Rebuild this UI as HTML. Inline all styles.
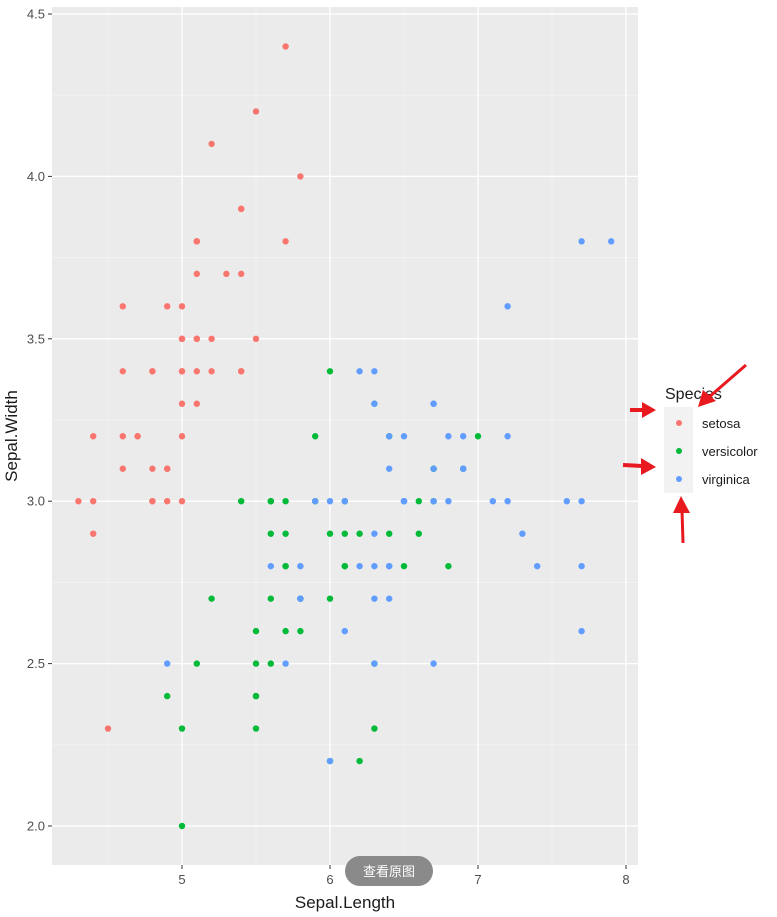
<!DOCTYPE html>
<html><head><meta charset="utf-8">
<style>
html,body{margin:0;padding:0;background:#fff;width:777px;height:917px;overflow:hidden}
svg text{font-family:"Liberation Sans","Noto Sans CJK SC",sans-serif}
</style></head><body>
<svg id="s" width="777" height="917" xmlns="http://www.w3.org/2000/svg">
<rect x="52" y="7" width="586" height="858" fill="#ebebeb"/>
<g id="grid"></g>
<g id="pts"></g>
<g id="ax"></g>
<text x="345" y="908" font-size="17" fill="#1a1a1a" text-anchor="middle">Sepal.Length</text>
<text transform="translate(17,436) rotate(-90)" font-size="17" fill="#1a1a1a" text-anchor="middle">Sepal.Width</text>
<text x="665" y="399" font-size="16" fill="#1a1a1a">Species</text>
<rect x="664" y="407" width="29" height="86" fill="#f2f2f2"/>
<circle cx="679" cy="423" r="3" fill="#F8766D"/>
<circle cx="679" cy="451" r="3" fill="#00BA38"/>
<circle cx="679" cy="479" r="3" fill="#619CFF"/>
<text x="702" y="428" font-size="13" fill="#1a1a1a">setosa</text>
<text x="702" y="456" font-size="13" fill="#1a1a1a">versicolor</text>
<text x="702" y="484" font-size="13" fill="#1a1a1a">virginica</text>
<g fill="#e8191f" stroke="#e8191f">
<line x1="746" y1="365" x2="708" y2="398" stroke-width="3"/><polygon points="698,407 703,390 716,401" stroke="none"/>
<line x1="630" y1="410" x2="645" y2="410" stroke-width="4"/><polygon points="656,410 642,402 642,418" stroke="none"/>
<line x1="623" y1="465" x2="642" y2="466" stroke-width="4"/><polygon points="656,467 641,458 641,475" stroke="none"/>
<line x1="683" y1="543" x2="682" y2="510" stroke-width="3"/><polygon points="681,496 673,513 690,513" stroke="none"/>
</g>
<rect x="345" y="856" width="88" height="30" rx="15" fill="#8a8a8a"/>
<text x="389" y="876" font-size="13" fill="#fff" text-anchor="middle">查看原图</text>
</svg>
<script>
var X=v=>182+(v-5)*148, Y=v=>826-(v-2)*324.8, NS="http://www.w3.org/2000/svg";
function el(p,t,a){var e=document.createElementNS(NS,t);for(var k in a)e.setAttribute(k,a[k]);p.appendChild(e);return e;}
var g=document.getElementById('grid'),ax=document.getElementById('ax');
[4.5,5.5,6.5,7.5].forEach(v=>el(g,'line',{x1:X(v),x2:X(v),y1:7,y2:865,stroke:'#f5f5f5','stroke-width':0.7}));
[2.25,2.75,3.25,3.75,4.25].forEach(v=>el(g,'line',{y1:Y(v),y2:Y(v),x1:52,x2:638,stroke:'#f5f5f5','stroke-width':0.7}));
[5,6,7,8].forEach(v=>{el(g,'line',{x1:X(v),x2:X(v),y1:7,y2:865,stroke:'#fff','stroke-width':1.3});
el(ax,'line',{x1:X(v),x2:X(v),y1:865,y2:869,stroke:'#333'});
var t=el(ax,'text',{x:X(v),y:884,'font-size':13,fill:'#4d4d4d','text-anchor':'middle'});t.textContent=v;});
[2,2.5,3,3.5,4,4.5].forEach(v=>{el(g,'line',{y1:Y(v),y2:Y(v),x1:52,x2:638,stroke:'#fff','stroke-width':1.3});
el(ax,'line',{x1:48,x2:52,y1:Y(v),y2:Y(v),stroke:'#333'});
var t=el(ax,'text',{x:45,y:Y(v)+4.5,'font-size':13,fill:'#4d4d4d','text-anchor':'end'});t.textContent=v.toFixed(1);});
var D=[
["#F8766D",[5.1,4.9,4.7,4.6,5.0,5.4,4.6,5.0,4.4,4.9,5.4,4.8,4.8,4.3,5.8,5.7,5.4,5.1,5.7,5.1,5.4,5.1,4.6,5.1,4.8,5.0,5.0,5.2,5.2,4.7,4.8,5.4,5.2,5.5,4.9,5.0,5.5,4.9,4.4,5.1,5.0,4.5,4.4,5.0,5.1,4.8,5.1,4.6,5.3,5.0],
[3.5,3.0,3.2,3.1,3.6,3.9,3.4,3.4,2.9,3.1,3.7,3.4,3.0,3.0,4.0,4.4,3.9,3.5,3.8,3.8,3.4,3.7,3.6,3.3,3.4,3.0,3.4,3.5,3.4,3.2,3.1,3.4,4.1,4.2,3.1,3.2,3.5,3.6,3.0,3.4,3.5,2.3,3.2,3.5,3.8,3.0,3.8,3.2,3.7,3.3]],
["#00BA38",[7.0,6.4,6.9,5.5,6.5,5.7,6.3,4.9,6.6,5.2,5.0,5.9,6.0,6.1,5.6,6.7,5.6,5.8,6.2,5.6,5.9,6.1,6.3,6.1,6.4,6.6,6.8,6.7,6.0,5.7,5.5,5.5,5.8,6.0,5.4,6.0,6.7,6.3,5.6,5.5,5.5,6.1,5.8,5.0,5.6,5.7,5.7,6.2,5.1,5.7],
[3.2,3.2,3.1,2.3,2.8,2.8,3.3,2.4,2.9,2.7,2.0,3.0,2.2,2.9,2.9,3.1,3.0,2.7,2.2,2.5,3.2,2.8,2.5,2.8,2.9,3.0,2.8,3.0,2.9,2.6,2.4,2.4,2.7,2.7,3.0,3.4,3.1,2.3,3.0,2.5,2.6,3.0,2.6,2.3,2.7,3.0,2.9,2.9,2.5,2.8]],
["#619CFF",[6.3,5.8,7.1,6.3,6.5,7.6,4.9,7.3,6.7,7.2,6.5,6.4,6.8,5.7,5.8,6.4,6.5,7.7,7.7,6.0,6.9,5.6,7.7,6.3,6.7,7.2,6.2,6.1,6.4,7.2,7.4,7.9,6.4,6.3,6.1,7.7,6.3,6.4,6.0,6.9,6.7,6.9,5.8,6.8,6.7,6.7,6.3,6.5,6.2,5.9],
[3.3,2.7,3.0,2.9,3.0,3.0,2.5,2.9,2.5,3.6,3.2,2.7,3.0,2.5,2.8,3.2,3.0,3.8,2.6,2.2,3.2,2.8,2.8,2.7,3.3,3.2,2.8,3.0,2.8,3.0,2.8,3.8,2.8,2.8,2.6,3.0,3.4,3.1,3.0,3.1,3.1,3.1,2.7,3.2,3.3,3.0,2.5,3.0,3.4,3.0]]];
var p=document.getElementById('pts');
D.forEach(d=>d[1].forEach((x,i)=>el(p,'circle',{cx:X(x),cy:Y(d[2][i]),r:3.2,fill:d[0]})));
</script>
</body></html>
